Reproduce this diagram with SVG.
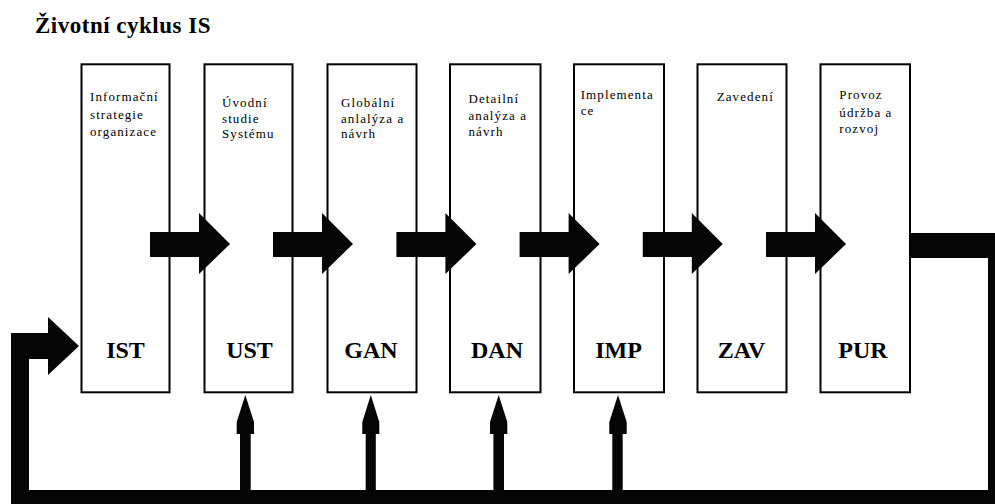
<svg xmlns="http://www.w3.org/2000/svg" width="995" height="504" viewBox="0 0 995 504">
<style>
.box{fill:#fff;stroke:#000;stroke-width:2}
.t{font-family:"Liberation Serif","Times New Roman",serif;font-size:13px;letter-spacing:1.1px;fill:#000}
.code{font-family:"Liberation Serif","Times New Roman",serif;font-size:24px;font-weight:bold;fill:#000;text-anchor:middle}
.title{font-family:"Liberation Serif","Times New Roman",serif;font-size:23px;font-weight:bold;letter-spacing:0.5px;fill:#000}
.arr{fill:#050505;stroke:none}
</style>
<rect width="995" height="504" fill="#fff"/>
<text class="title" x="35" y="33">Životní cyklus IS</text>
<g id="IST"><rect class="box" x="81.5" y="64.3" width="88" height="328"/><text class="t" x="90" y="101">Informační</text><text class="t" x="90" y="118.5">strategie</text><text class="t" x="90" y="136">organizace</text><text class="code" x="125.5" y="358">IST</text></g>
<g id="UST"><rect class="box" x="204.5" y="64.3" width="88" height="328"/><text class="t" x="222" y="106.5">Úvodní</text><text class="t" x="222" y="122.5">studie</text><text class="t" x="222" y="138.3">Systému</text><text class="code" x="249.5" y="358">UST</text></g>
<g id="GAN"><rect class="box" x="327.5" y="64.3" width="89" height="328"/><text class="t" x="341" y="106.5">Globální</text><text class="t" x="341" y="122.5">anlalýza a</text><text class="t" x="341" y="138.3">návrh</text><text class="code" x="371" y="358">GAN</text></g>
<g id="DAN"><rect class="box" x="450" y="64.3" width="90.5" height="328"/><text class="t" x="468.5" y="103.3">Detailní</text><text class="t" x="468.5" y="120">analýza a</text><text class="t" x="468.5" y="136">návrh</text><text class="code" x="497" y="358">DAN</text></g>
<g id="IMP"><rect class="box" x="574" y="64.3" width="90" height="328"/><text class="t" x="580.7" y="99.3">Implementa</text><text class="t" x="580.7" y="115">ce</text><text class="code" x="618.5" y="358">IMP</text></g>
<g id="ZAV"><rect class="box" x="697.5" y="64.3" width="89" height="328"/><text class="t" x="716.7" y="100.7">Zavedení</text><text class="code" x="741.5" y="358">ZAV</text></g>
<g id="PUR"><rect class="box" x="820.5" y="64.3" width="89.5" height="328"/><text class="t" x="839.3" y="99">Provoz</text><text class="t" x="839.3" y="116.7">údržba a</text><text class="t" x="839.3" y="132.7">rozvoj</text><text class="code" x="863" y="358">PUR</text></g>
<g id="connectors">
<path class="arr" d="M150 232H199V213L230 244L199 274V257H150Z"/>
<path class="arr" d="M273 232H322V213L353 244L322 274V257H273Z"/>
<path class="arr" d="M396.4 232H445.4V213L476.4 244L445.4 274V257H396.4Z"/>
<path class="arr" d="M519.6 232H568.6V213L599.6 244L568.6 274V257H519.6Z"/>
<path class="arr" d="M642.8 232H691.8V213L722.8 244L691.8 274V257H642.8Z"/>
<path class="arr" d="M766 232H815V213L846 244L815 274V257H766Z"/>
<path class="arr" d="M910 233H995V504H11V333H48V317L79 346L48 375V359H29V490H988V258H910Z"/>
<path class="arr" d="M240 491V434H236.7V422L245.3 395L254 422V434H250.7V491Z"/>
<path class="arr" d="M365.7 491V434H362.3V422L370.8 395L379.3 422V434H375.8V491Z"/>
<path class="arr" d="M493.4 491V434H490V422L498.7 395L507.3 422V434H504V491Z"/>
<path class="arr" d="M612.3 491V434H609.3V422L618 395L626.7 422V434H622.7V491Z"/>
</g>
</svg>
